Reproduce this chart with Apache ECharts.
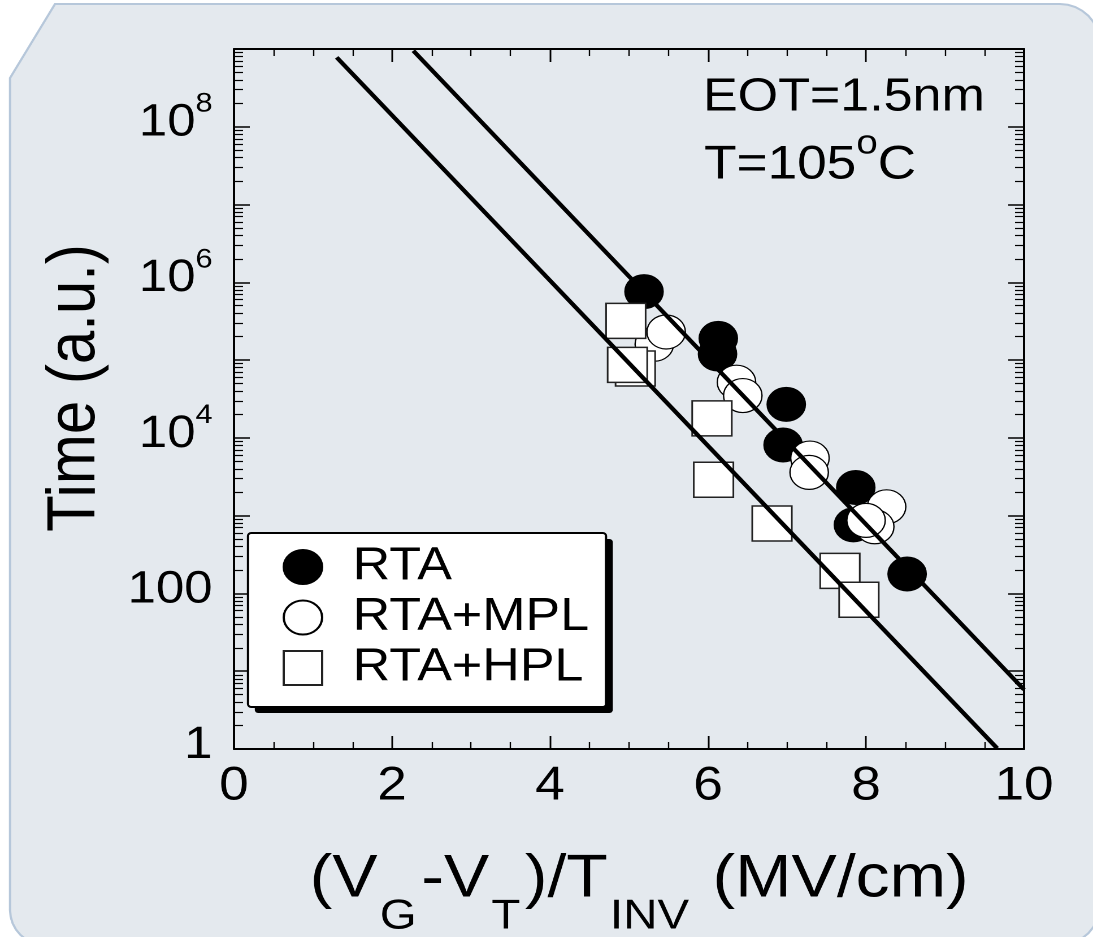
<!DOCTYPE html>
<html>
<head>
<meta charset="utf-8">
<script src="https://cdn.jsdelivr.net/npm/echarts@6/dist/echarts.min.js"></script>
<style>
  html, body { margin: 0; padding: 0; background: #fff; overflow: hidden; }
  #chart-container {
    position: absolute; left: 0; top: 0;
    width: 967px; height: 937px;
    transform: scaleX(1.1303); transform-origin: 0 0;
  }
</style>
</head>
<body>
<div id="chart-container"></div>
<script>
// values
const rtaX = [5.19, 6.13, 6.12, 6.99, 6.95, 7.87, 7.84, 8.52];
const rtaY = [7.6e5, 1.9e5, 1.2e5, 2.7e4, 8.1e3, 2.3e3, 760, 178];
const mplX = [5.32, 5.47, 6.36, 6.44, 7.29, 7.28, 8.26, 8.11, 8.00];
const mplY = [1.6e5, 2.3e5, 5.2e4, 3.5e4, 5.5e3, 3.6e3, 1.3e3, 720, 870];
const hplX = [4.96, 5.08, 4.98, 6.05, 6.07, 6.81, 7.67, 7.91];
const hplY = [3.2e5, 7.8e4, 8.7e4, 1.78e4, 2.9e3, 794, 195, 83];
// fitted lines (end points)
const fitUpperX = [2.27, 10];
const fitUpperY = [9.5e8, 5.8];
const fitLowerX = [1.30, 9.66];
const fitLowerY = [7.8e8, 1.02];
const yLabelExp = [0, 2, 4, 6, 8];

const FONT = '"Liberation Sans", Arial, Helvetica, sans-serif';
const S = 1093 / 967; // page is stretched horizontally
const px = (x) => x / S;

const zip = (xs, ys) => xs.map((x, i) => [x, ys[i]]);

// rounded corner points for the background panel
function corner(cx, cy, r, a0, a1) {
  const pts = [];
  for (let i = 0; i <= 8; i++) {
    const a = a0 + (a1 - a0) * i / 8;
    pts.push([px(cx + r * Math.cos(a)), cy + r * Math.sin(a)]);
  }
  return pts;
}

(() => {
  var dom = document.getElementById("chart-container");
  var chart = echarts.init(dom, null, { renderer: "canvas", devicePixelRatio: 2 });

  const panelPts = [[px(55), 4]]
    .concat(corner(1060, 44, 40, -Math.PI / 2, 0))
    .concat(corner(1060, 905, 40, 0, Math.PI / 2))
    .concat(corner(45, 910, 35, Math.PI / 2, Math.PI))
    .concat([[px(10), 78]]);

  // legend frame (page px)
  const box = { x: px(248), y: 533, w: px(606) - px(248), h: 174 };

  const tickCommon = {
    axisLine: { onZero: false, lineStyle: { color: "#000", width: 2 } },
    axisTick: { inside: true, length: 13, lineStyle: { color: "#000", width: 1.5 } },
    minorTick: { show: true, length: 7, lineStyle: { color: "#000", width: 1.2 } },
    splitLine: { show: false },
  };

  const option = {
    backgroundColor: "transparent",
    animation: false,
    textStyle: { fontFamily: FONT },
    graphic: [
      {
        type: "polygon",
        z: -100,
        shape: { points: panelPts },
        style: { fill: "#e4e9ee", stroke: "#b6c7da", lineWidth: 2 },
      },
      {
        type: "rect",
        z: 3,
        shape: { x: box.x + 6, y: box.y + 6, width: box.w, height: box.h, r: 3 },
        style: { fill: "#000" },
      },
      {
        type: "rect",
        z: 3,
        shape: { x: box.x, y: box.y, width: box.w, height: box.h, r: 3 },
        style: { fill: "#fff", stroke: "#000", lineWidth: 2 },
      },
      {
        type: "text",
        x: 622,
        y: 98,
        style: { text: "EOT=1.5nm", font: "46px " + FONT, fill: "#000", verticalAlign: "middle" },
      },
      {
        type: "text",
        x: 623,
        y: 158,
        style: {
          text: "{m|T=105}{s|o}{m|C}",
          fill: "#000",
          verticalAlign: "middle",
          rich: {
            m: { fontSize: 47, lineHeight: 62, verticalAlign: "bottom", fontFamily: FONT, fill: "#000" },
            s: { fontSize: 34, lineHeight: 20, verticalAlign: "top", fontFamily: FONT, fill: "#000" },
          },
        },
      },
    ],
    grid: { left: 207, top: 49, width: 699, height: 700, containLabel: false, outerBoundsMode: "none" },
    legend: {
      orient: "vertical",
      left: 250,
      top: 544,
      padding: 0,
      z: 5,
      itemWidth: 34,
      itemHeight: 34,
      itemGap: 4.5,
      textStyle: { fontSize: 46, color: "#000", fontFamily: FONT, padding: [0, 0, 0, 22] },
      data: [
        { name: "RTA", icon: "circle" },
        { name: "RTA+MPL", icon: "circle" },
        { name: "RTA+HPL", icon: "rect" },
      ],
    },
    xAxis: [
      Object.assign({}, tickCommon, {
        type: "value",
        min: 0,
        max: 10,
        interval: 2,
        position: "bottom",
        minorTick: Object.assign({}, tickCommon.minorTick, { splitNumber: 4 }),
        axisLabel: { fontSize: 47, color: "#000", margin: 14, fontFamily: FONT },
        name: "{m|(V}{s|G}{m|-V}{s|T}{m|)/T}{s|INV}{m| (MV/cm)}",
        nameLocation: "middle",
        nameGap: 101,
        nameTextStyle: {
          padding: [0, 0, 0, 18],
          rich: {
            m: { fontSize: 60, lineHeight: 88, verticalAlign: "top", color: "#000", fontFamily: FONT },
            s: { fontSize: 42, lineHeight: 42, verticalAlign: "bottom", color: "#000", fontFamily: FONT, padding: [0, 4, 0, 2] },
          },
        },
      }),
      Object.assign({}, tickCommon, {
        type: "value",
        min: 0,
        max: 10,
        interval: 2,
        position: "top",
        minorTick: Object.assign({}, tickCommon.minorTick, { splitNumber: 4 }),
        axisLabel: { show: false },
      }),
    ],
    yAxis: [
      Object.assign({}, tickCommon, {
        type: "log",
        logBase: 10,
        min: 1,
        max: 1e9,
        splitNumber: 9,
        position: "left",
        axisTick: Object.assign({}, tickCommon.axisTick, { length: 14 }),
        minorTick: Object.assign({}, tickCommon.minorTick, { splitNumber: 9, length: 8 }),
        axisLabel: {
          margin: 19,
          padding: [0, 0, 17, 0],
          formatter: (v) => {
            const e = Math.round(Math.log10(v));
            if (yLabelExp.indexOf(e) < 0) return "";
            if (e <= 2) return "{m|" + Math.pow(10, e) + "}";
            return "{m|10}{s|" + e + "}";
          },
          rich: {
            m: { fontSize: 45, lineHeight: 55, verticalAlign: "bottom", color: "#000", fontFamily: FONT },
            s: { fontSize: 27, lineHeight: 20, verticalAlign: "top", color: "#000", fontFamily: FONT },
          },
        },
        name: "Time (a.u.)",
        nameLocation: "middle",
        nameGap: 110,
        nameTextStyle: { fontSize: 60, color: "#000", fontFamily: FONT, padding: [0, 0, 0, 22] },
      }),
      Object.assign({}, tickCommon, {
        type: "log",
        logBase: 10,
        min: 1,
        max: 1e9,
        splitNumber: 9,
        position: "right",
        axisTick: Object.assign({}, tickCommon.axisTick, { length: 14 }),
        minorTick: Object.assign({}, tickCommon.minorTick, { splitNumber: 9, length: 8 }),
        axisLabel: { show: false },
      }),
    ],
    series: [
      {
        name: "RTA",
        type: "scatter",
        symbol: "circle",
        symbolSize: 34,
        itemStyle: { color: "#000", borderColor: "#000", borderWidth: 1, opacity: 1 },
        data: zip(rtaX, rtaY),
      },
      {
        name: "RTA+MPL",
        type: "scatter",
        symbol: "circle",
        symbolSize: 34,
        itemStyle: { color: "#fff", borderColor: "#000", borderWidth: 1.2, opacity: 1 },
        data: zip(mplX, mplY),
      },
      {
        name: "RTA+HPL",
        type: "scatter",
        symbol: "rect",
        symbolSize: 35,
        itemStyle: { color: "#fff", borderColor: "#222", borderWidth: 1.5, opacity: 1 },
        data: zip(hplX, hplY),
      },
      {
        name: "fit1",
        type: "line",
        showSymbol: false,
        symbol: "none",
        lineStyle: { color: "#000", width: 4 },
        data: zip(fitUpperX, fitUpperY),
      },
      {
        name: "fit2",
        type: "line",
        showSymbol: false,
        symbol: "none",
        lineStyle: { color: "#000", width: 4 },
        data: zip(fitLowerX, fitLowerY),
      },
    ],
  };
  chart.setOption(option);
  window.addEventListener("resize", chart.resize);
})();
</script>
</body>
</html>
